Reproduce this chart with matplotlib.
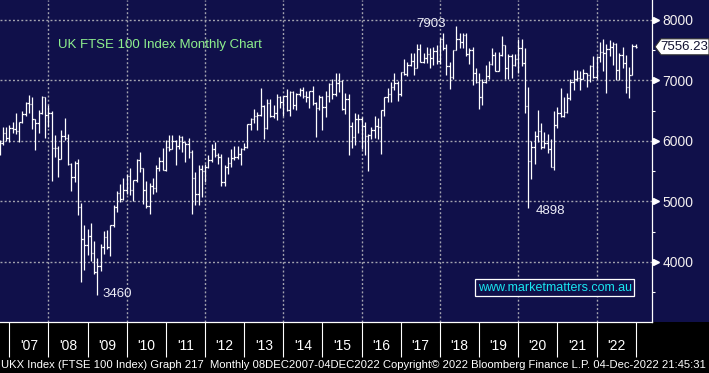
import matplotlib
matplotlib.use('Agg')
import matplotlib.pyplot as plt
import matplotlib.transforms as mtransforms
from matplotlib.collections import LineCollection
from matplotlib.patches import Rectangle, Polygon
import numpy as np
import pandas as pd

# monthly bars, Sep 2006 - Dec 2022
months = pd.period_range('2006-09', '2022-12', freq='M')

opens = [5906, 5961, 6129, 6049,
         6221, 6203, 6172, 6308, 6449, 6621, 6608, 6360, 6303, 6467, 6722, 6432,
         6457, 5880, 5885, 5702, 6087, 6053, 5626, 5412, 5637, 4902, 4377, 4288,
         4434, 4150, 3830, 3926, 4244, 4418, 4249, 4608, 4909, 5134, 5045, 5191,
         5413, 5189, 5355, 5680, 5553, 5188, 4917, 5258, 5225, 5549, 5675, 5528,
         5900, 5863, 5994, 5909, 6070, 5990, 5946, 5815, 5395, 5128, 5544, 5505,
         5572, 5682, 5872, 5768, 5738, 5321, 5571, 5635, 5711, 5742, 5783, 5867,
         5898, 6277, 6361, 6412, 6430, 6583, 6215, 6621, 6413, 6462, 6731, 6651,
         6749, 6510, 6810, 6598, 6780, 6845, 6744, 6730, 6820, 6623, 6547, 6723,
         6566, 6749, 6947, 6773, 6961, 6984, 6521, 6696, 6248, 6062, 6361, 6356,
         6242, 6084, 6097, 6175, 6242, 6231, 6504, 6724, 6782, 6899, 6954, 6784,
         7143, 7099, 7263, 7323, 7204, 7520, 7313, 7372, 7431, 7373, 7493, 7327,
         7688, 7534, 7232, 7057, 7509, 7678, 7637, 7749, 7432, 7510, 7128, 6980,
         6728, 6969, 7075, 7279, 7418, 7162, 7426, 7587, 7207, 7408, 7248, 7347,
         7542, 7286, 6581, 5672, 5901, 6077, 6170, 5898, 5964, 5866, 5577, 6266,
         6461, 6407, 6483, 6714, 6970, 7023, 7037, 7032, 7120, 7086, 7238, 7059,
         7385, 7464, 7458, 7516, 7545, 7608, 7169, 7423, 7284, 6894, 7095, 7573]

highs = [6010, 6237, 6236, 6260,
         6319, 6461, 6319, 6497, 6652, 6754, 6733, 6370, 6520, 6751, 6735, 6592,
         6497, 6094, 5925, 6178, 6376, 6113, 5640, 5662, 5710, 4980, 4604, 4545,
         4639, 4350, 4058, 4304, 4507, 4528, 4617, 4949, 5175, 5297, 5382, 5455,
         5549, 5355, 5710, 5825, 5561, 5334, 5313, 5396, 5609, 5742, 5878, 6019,
         6106, 6106, 6018, 6101, 6090, 5990, 6055, 5852, 5480, 5608, 5599, 5627,
         5760, 5945, 5989, 5800, 5778, 5605, 5730, 5866, 5910, 5914, 5885, 5970,
         6280, 6380, 6530, 6480, 6875, 6600, 6700, 6700, 6600, 6780, 6750, 6750,
         6865, 6830, 6830, 6800, 6880, 6895, 6830, 6830, 6905, 6640, 6760, 6750,
         6830, 6960, 7020, 7120, 7122, 7000, 6800, 6770, 6310, 6460, 6450, 6400,
         6315, 6110, 6225, 6420, 6380, 6505, 6730, 6880, 6970, 7130, 6990, 7145,
         7355, 7300, 7450, 7447, 7600, 7600, 7460, 7560, 7540, 7560, 7590, 7700,
         7792, 7600, 7300, 7510, 7903, 7790, 7790, 7790, 7530, 7550, 7200, 7120,
         7020, 7250, 7330, 7530, 7475, 7470, 7727, 7590, 7440, 7440, 7440, 7680,
         7690, 7530, 6900, 6000, 6170, 6510, 6300, 6150, 6120, 6040, 6500, 6560,
         6880, 6720, 6800, 7020, 7165, 7180, 7150, 7190, 7130, 7260, 7400, 7410,
         7634, 7690, 7600, 7670, 7640, 7620, 7450, 7560, 7420, 7215, 7600, 7600]

lows = [5772, 5927, 6000, 5976,
        6132, 6108, 5989, 6300, 6408, 6463, 6200, 5859, 6125, 6451, 6054, 6228,
        5337, 5738, 5410, 5694, 6014, 5609, 5181, 5318, 4783, 3665, 3874, 4115,
        4011, 3803, 3460, 3844, 4140, 4207, 4096, 4577, 4825, 4985, 5030, 5128,
        5101, 5001, 5325, 5495, 4951, 4893, 4790, 5120, 5160, 5506, 5528, 5510,
        5830, 5860, 5599, 5870, 5818, 5646, 5719, 4791, 4944, 4940, 5075, 5320,
        5550, 5650, 5730, 5620, 5260, 5250, 5450, 5570, 5680, 5700, 5605, 5850,
        5890, 6180, 6300, 6180, 6420, 6030, 6200, 6400, 6380, 6350, 6550, 6420,
        6490, 6410, 6530, 6510, 6750, 6710, 6650, 6540, 6590, 6073, 6510, 6180,
        6400, 6650, 6690, 6740, 6810, 6510, 6450, 5768, 5880, 5940, 6130, 5870,
        5767, 5500, 6030, 6050, 6040, 5788, 6420, 6640, 6640, 6850, 6660, 6740,
        7090, 7080, 7240, 7090, 7200, 7300, 7290, 7290, 7210, 7260, 7280, 7280,
        7510, 7090, 6866, 7030, 7500, 7540, 7540, 7400, 7270, 6930, 6950, 6536,
        6600, 6960, 7030, 7260, 7150, 7150, 7410, 7030, 7030, 7040, 7240, 7130,
        7240, 6460, 4898, 5370, 5620, 5990, 5860, 5880, 5800, 5570, 5525, 6210,
        6390, 6390, 6460, 6680, 6850, 6990, 6850, 7020, 6900, 6980, 7040, 7030,
        7300, 7150, 6800, 7400, 7260, 7010, 7000, 7200, 6800, 6710, 7090, 7530]

closes = [5961, 6129, 6049, 6221,
          6203, 6172, 6308, 6449, 6621, 6608, 6360, 6303, 6467, 6722, 6432, 6457,
          5880, 5885, 5702, 6087, 6053, 5626, 5412, 5637, 4902, 4377, 4288, 4434,
          4150, 3830, 3926, 4244, 4418, 4249, 4608, 4909, 5134, 5045, 5191, 5413,
          5189, 5355, 5680, 5553, 5188, 4917, 5258, 5225, 5549, 5675, 5528, 5900,
          5863, 5994, 5909, 6070, 5990, 5946, 5815, 5395, 5128, 5544, 5505, 5572,
          5682, 5872, 5768, 5738, 5321, 5571, 5635, 5711, 5742, 5783, 5867, 5898,
          6277, 6361, 6412, 6430, 6583, 6215, 6621, 6413, 6462, 6731, 6651, 6749,
          6510, 6810, 6598, 6780, 6845, 6744, 6730, 6820, 6623, 6547, 6723, 6566,
          6749, 6947, 6773, 6961, 6984, 6521, 6696, 6248, 6062, 6361, 6356, 6242,
          6084, 6097, 6175, 6242, 6231, 6504, 6724, 6782, 6899, 6954, 6784, 7143,
          7099, 7263, 7323, 7204, 7520, 7313, 7372, 7431, 7373, 7493, 7327, 7688,
          7534, 7232, 7057, 7509, 7678, 7637, 7749, 7432, 7510, 7128, 6980, 6728,
          6969, 7075, 7279, 7418, 7162, 7426, 7587, 7207, 7408, 7248, 7347, 7542,
          7286, 6581, 5672, 5901, 6077, 6170, 5898, 5964, 5866, 5577, 6266, 6461,
          6407, 6483, 6714, 6970, 7023, 7037, 7032, 7120, 7086, 7238, 7059, 7385,
          7464, 7458, 7516, 7545, 7608, 7169, 7423, 7284, 6894, 7095, 7573, 7556]

year_labels = ["'07", "'08", "'09", "'10", "'11", "'12", "'13", "'14",
               "'15", "'16", "'17", "'18", "'19", "'20", "'21", "'22"]
price_ticks = [4000, 5000, 6000, 7000, 8000]
last_price = 7556.23
marked = [("7903", 129.3, 7926), ("3460", 33.0, 3471), ("4898", 166.0, 4843)]

navy = '#10104a'
font = 'Liberation Sans'

fig = plt.figure(figsize=(7.09, 3.73), dpi=100, facecolor='black')
ax = fig.add_axes([0, 51 / 373, 652 / 709, 322 / 373], facecolor=navy)
# navy strip behind the right-hand price labels
fig.patches.append(Rectangle((652 / 709, 51 / 373), 57 / 709, 322 / 373,
                             transform=fig.transFigure, facecolor=navy,
                             edgecolor='none', zorder=-5))

# bar x = month end, counted in months from 1 Jan 2007
t = (months.year - 2007) * 12 + months.month
t = np.asarray(t, dtype=float)
w = 0.45
segs = []
for x, o, h, l, c in zip(t, opens, highs, lows, closes):
    segs.append([(x, l), (x, h)])
    segs.append([(x - w, o), (x, o)])
    segs.append([(x, c), (x + w, c)])
ax.add_collection(LineCollection(segs, colors='white', linewidths=0.9, zorder=3))

ax.set_xlim(-2.85, 197.0)
ax.set_ylim(3008, 8330)

# dotted grid
grid_kw = dict(color='#a4a4b0', lw=1.0, ls=(0, (1.4, 1.6)), zorder=1)
for v in price_ticks:
    ax.axhline(v, **grid_kw)
for g in range(12, 181, 24):
    ax.axvline(g, **grid_kw)

# x axis: year boundaries as long ticks, labels in between
ax.set_xticks(range(0, 193, 12))
ax.set_xticklabels([])
ax.set_xticks([6 + 12 * i for i in range(len(year_labels))], minor=True)
ax.set_xticklabels(year_labels, minor=True, fontsize=10, color='white', family=font)
ax.tick_params(axis='x', which='major', length=25, width=0.8, color='white', direction='out')
ax.tick_params(axis='x', which='minor', length=0, pad=12.5)

# y axis on the right
ax.yaxis.tick_right()
ax.set_yticks(price_ticks)
ax.set_yticklabels([str(v) for v in price_ticks], fontsize=10, color='#f4f0f0', family=font)
ax.set_yticks([3500, 4500, 5500, 6500, 7500], minor=True)
ax.tick_params(axis='y', which='major', length=0, pad=7.5)
ax.tick_params(axis='y', which='minor', length=2.5, width=0.8, color='white')
tri = mtransforms.offset_copy(mtransforms.blended_transform_factory(ax.transAxes, ax.transData),
                              fig=fig, x=3.5, units='dots')
ax.plot([1.0] * len(price_ticks), price_ticks, ls='none', marker='>', ms=5,
        color='white', transform=tri, clip_on=False)

for s in ['top', 'left']:
    ax.spines[s].set_visible(False)
for s in ['right', 'bottom']:
    ax.spines[s].set_color('white')
    ax.spines[s].set_linewidth(0.9)

# texts
ax.text(0.089, 0.860, 'UK FTSE 100 Index Monthly Chart', transform=ax.transAxes,
        color='#8ef08e', fontsize=9.5, family=font, va='center', ha='left')
for lab, x, y in marked:
    ax.text(x, y, lab, color='#eeeef8', fontsize=9.5, family=font, ha='center', va='center')
ax.text(0.851, 0.1056, 'www.marketmatters.com.au', transform=ax.transAxes,
        color='#19e6f0', fontsize=9, family=font, ha='center', va='center',
        bbox=dict(boxstyle='square,pad=0.2', fc=navy, ec='white', lw=0.9))

# last price tag
fig.canvas.draw()
py = ax.transData.transform((0, last_price))[1]
tag = Polygon([(655, py), (661, py + 8), (709, py + 8), (709, py - 8), (661, py - 8)],
              closed=True, transform=mtransforms.IdentityTransform(),
              facecolor='white', edgecolor='#303030', lw=0.8, zorder=5)
fig.patches.append(tag)
fig.text(684 / 709, py / 373, '7556.23', color='#101030', fontsize=9.5, family=font,
         ha='center', va='center', zorder=6)

fig.text(0.002, 8 / 373, 'UKX Index (FTSE 100 Index) Graph 217  Monthly 08DEC2007-04DEC2022 '
         'Copyright\u00a9 2022 Bloomberg Finance L.P. 04-Dec-2022 21:45:31',
         color='white', fontsize=8.1, family=font, ha='left', va='center')

fig.savefig('out.png', dpi=100, facecolor='black')
